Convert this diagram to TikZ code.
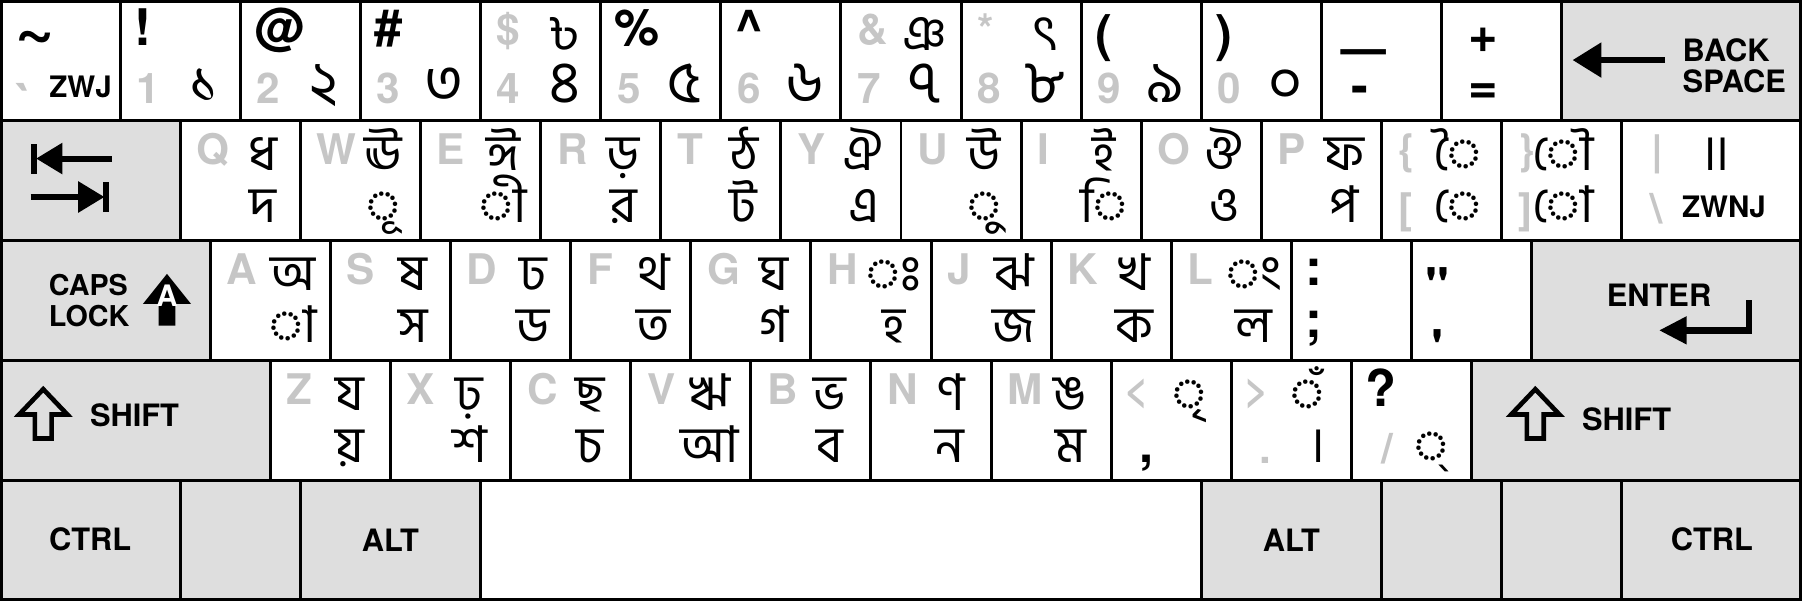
\documentclass[tikz,border=0pt]{standalone}
\usepackage{fontspec}
\newfontfamily\keyfont{TeX Gyre Heros}
\newfontfamily\bnfont[Script=Bengali]{Hind Siliguri}
\usetikzlibrary{arrows.meta}
\definecolor{keyfill}{HTML}{DEDEDE}
\definecolor{latin}{HTML}{C6C6C6}
\tikzset{
	key/.style={draw,line width=0.7pt},
	modkey/.style={key,fill=keyfill},
	lat/.style={text=latin,inner sep=0pt,anchor=base,font=\keyfont\bfseries\fontsize{10}{10}\selectfont},
	sym/.style={inner sep=0pt,anchor=base,font=\keyfont\bfseries\fontsize{12}{12}\selectfont},
	bn/.style={inner sep=0pt,anchor=base,font=\bnfont\fontsize{12}{12}\selectfont},
	bndig/.style={bn,font=\bnfont\fontsize{14}{14}\selectfont},
	lbl/.style={inner sep=0pt,align=left,font=\keyfont\bfseries\fontsize{7.3}{7.4}\selectfont},
	small/.style={inner sep=0pt,anchor=base,font=\keyfont\bfseries\fontsize{7}{7}\selectfont},
	bar/.style={line width=1.4pt},
}

\begin{document}
\begin{tikzpicture}
	\useasboundingbox (0,0) rectangle (15,5);
	\foreach \i in {0,...,12} \draw[key] (\i,4) rectangle ++(1,1);
	\draw[modkey] (13,4) rectangle (15,5);
	\draw[modkey] (0,3) rectangle (1.5,4);
	\foreach \i in {0,...,11} \draw[key] (1.5+\i,3) rectangle ++(1,1);
	\draw[key] (13.5,3) rectangle (15,4);
	\draw[modkey] (0,2) rectangle (1.75,3);
	\foreach \i in {0,...,10} \draw[key] (1.75+\i,2) rectangle ++(1,1);
	\draw[modkey] (12.75,2) rectangle (15,3);
	\draw[modkey] (0,1) rectangle (2.25,2);
	\foreach \i in {0,...,9} \draw[key] (2.25+\i,1) rectangle ++(1,1);
	\draw[modkey] (12.25,1) rectangle (15,2);
	\foreach \x/\w in {0/1.5,1.5/1,2.5/1.5,10/1.5,11.5/1,12.5/1,13.5/1.5}
		\draw[modkey] (\x,0) rectangle ++(\w,1);
	\draw[key] (4,0) rectangle (10,1);
	\draw[line width=1.4pt] (0,0) rectangle (15,5);

	\node[sym,anchor=base west,font=\keyfont\bfseries\fontsize{16}{16}\selectfont] (tilde) at (0.12,4.56) {\textasciitilde};
	\node[lat,font=\keyfont\bfseries\fontsize{12}{12}\selectfont] (grave) at (0.21,3.99) {\textasciigrave};
	\node[small] (zwj) at (0.67,4.19) {ZWJ};
	\foreach \i/\d/\b in {1/1/১,2/2/২,3/3/৩,4/4/৪,5/5/৫,6/6/৬,7/7/৭,8/8/৮,9/9/৯,10/0/০}{
		\node[lat,anchor=base west] (num\d) at (\i+0.13,4.14) {\d};
		\node[bndig] (bdig\d) at (\i+0.70,4.15) {\b};
	}
	\foreach \i/\s in {1/!,2/@,3/\#,5/\%,6/\textasciicircum}
		\node[sym,anchor=base west] (sym\i) at (\i+0.11,4.62) {\s};
	\foreach \i/\s in {9/{(},10/{)}}
		\node[sym,anchor=base west] (sym\i) at (\i+0.11,4.57) {\s};
	\foreach \i/\s in {4/\$,7/\&,8/*}
		\node[lat,anchor=base west] (gsym\i) at (\i+0.13,4.63) {\s};
	\foreach \i/\b in {4/৳,7/ঞ,8/ৎ}
		\node[bn] (bsh\i) at (\i+0.70,4.58) {\b};
	\node[sym,anchor=south,font=\keyfont\bfseries\fontsize{18}{18}\selectfont] (under) at (11.35,4.54) {\_};
	\node[sym] (minus) at (11.32,4.14) {-};
	\node[sym] (plus) at (12.35,4.56) {+};
	\node[sym] (equal) at (12.35,4.14) {=};
	\draw[line width=1.5pt,-{Triangle[length=0.24cm,width=0.28cm]}] (13.86,4.5) -- (13.09,4.5);
	\node[lbl,anchor=west] (bksp) at (14.0,4.45) {BACK\\SPACE};

	\draw[bar] (0.285,3.555) -- (0.285,3.805);
	\draw[bar,-{Triangle[length=0.22cm,width=0.25cm]}] (0.93,3.68) -- (0.30,3.68);
	\draw[bar,-{Triangle[length=0.22cm,width=0.25cm]}] (0.255,3.36) -- (0.87,3.36);
	\draw[bar] (0.885,3.235) -- (0.885,3.485);
	\foreach \x/\l/\t/\b in {1.5/Q/ধ/দ,2.5/W/ঊ/◌ূ,3.5/E/ঈ/◌ী,4.5/R/ড়/র,5.5/T/ঠ/ট,6.5/Y/ঐ/এ,7.5/U/উ/◌ু,8.5/I/ই/◌ি,9.5/O/ঔ/ও,10.5/P/ফ/প}{
		\node[lat,anchor=base west] (l\l) at (\x+0.13,3.63) {\l};
		\node[bn] (t\l) at (\x+0.69,3.58) {\t};
		\node[bn] (b\l) at (\x+0.69,3.15) {\b};
	}
	\node[lat,anchor=base west] (lbrace) at (11.63,3.63) {\{};
	\node[lat,anchor=base west] (lbrack) at (11.63,3.14) {[};
	\node[bn] (ai) at (12.13,3.58) {◌ৈ};
	\node[bn] (e) at (12.13,3.15) {◌ে};
	\node[lat,anchor=base west] (rbrace) at (12.63,3.63) {\}};
	\node[lat,anchor=base west] (rbrack) at (12.63,3.14) {]};
	\node[bn] (au) at (13.01,3.58) {◌ৌ};
	\node[bn] (o) at (13.01,3.15) {◌ো};
	\node[lat] (pipe) at (13.8,3.62) {|};
	\node[lat] (bslash) at (13.79,3.14) {\textbackslash};
	\node[bn] (ddanda) at (14.28,3.58) {॥};
	\node[small] (zwnj) at (14.35,3.19) {ZWNJ};

	\node[lbl,anchor=west,font=\keyfont\bfseries\fontsize{6.8}{7.4}\selectfont] (caps) at (0.40,2.5) {CAPS\\LOCK};
	\fill (1.39,2.72) -- (1.59,2.47) -- (1.46,2.47) -- (1.46,2.29) -- (1.32,2.29) -- (1.32,2.47) -- (1.19,2.47) -- cycle;
	\node[text=white,inner sep=0pt,font=\keyfont\bfseries\fontsize{7}{7}\selectfont] (capsA) at (1.39,2.54) {A};
	\foreach \x/\l/\t/\b in {1.75/A/অ/◌া,2.75/S/ষ/স,3.75/D/ঢ/ড,4.75/F/থ/ত,5.75/G/ঘ/গ,6.75/H/◌ঃ/হ,7.75/J/ঝ/জ,8.75/K/খ/ক,9.75/L/◌ং/ল}{
		\node[lat,anchor=base west] (l\l) at (\x+0.13,2.63) {\l};
		\node[bn] (t\l) at (\x+0.69,2.58) {\t};
		\node[bn] (b\l) at (\x+0.69,2.15) {\b};
	}
	\node[sym,anchor=base west] (colon) at (10.86,2.62) {:};
	\node[sym,anchor=base west] (semi) at (10.86,2.19) {;};
	\node[sym,anchor=north] (dquote) at (11.97,2.78) {"};
	\node[sym,anchor=north] (squote) at (11.97,2.26) {'};
	\node[lbl] (enter) at (13.81,2.54) {ENTER};
	\draw[line width=1.5pt,-{Triangle[length=0.23cm,width=0.22cm]}] (14.56,2.50) |- (13.81,2.25);

	\foreach \s in {0,12.42}
		\draw[line width=1.1pt,xshift=\s cm] (0.36,1.76) -- (0.56,1.55) -- (0.43,1.55) -- (0.43,1.35) -- (0.29,1.35) -- (0.29,1.55) -- (0.16,1.55) -- cycle;
	\node[lbl] (lshift) at (1.12,1.54) {SHIFT};
	\node[lbl] (rshift) at (13.54,1.51) {SHIFT};
	\foreach \x/\l/\t/\b in {2.25/Z/য/য়,3.25/X/ঢ়/শ,4.25/C/ছ/চ,5.25/V/ঋ/আ,6.25/B/ভ/ব,7.25/N/ণ/ন,8.25/M/ঙ/ম}{
		\node[lat,anchor=base west] (l\l) at (\x+0.13,1.63) {\l};
		\node[bn] (t\l) at (\x+0.66,1.58) {\t};
		\node[bn] (b\l) at (\x+0.66,1.15) {\b};
	}
	\node[lat,anchor=base west] (less) at (9.35,1.63) {<};
	\node[bn] (ri) at (9.9,1.58) {◌ৃ};
	\node[sym] (comma) at (9.54,1.15) {,};
	\node[lat,anchor=base west] (greater) at (10.35,1.63) {>};
	\node[bn] (candra) at (10.88,1.58) {◌ঁ};
	\node[lat] (dot) at (10.53,1.14) {.};
	\node[bn] (danda) at (10.97,1.15) {।};
	\node[sym,anchor=base west] (quest) at (11.36,1.62) {?};
	\node[lat] (slash) at (11.55,1.14) {/};
	\node[bn] (hasant) at (11.91,1.15) {◌্};

	\node[lbl] (lctrl) at (0.75,0.51) {CTRL};
	\node[lbl] (lalt) at (3.25,0.5) {ALT};
	\node[lbl] (ralt) at (10.75,0.5) {ALT};
	\node[lbl] (rctrl) at (14.25,0.51) {CTRL};
\end{tikzpicture}
\end{document}
